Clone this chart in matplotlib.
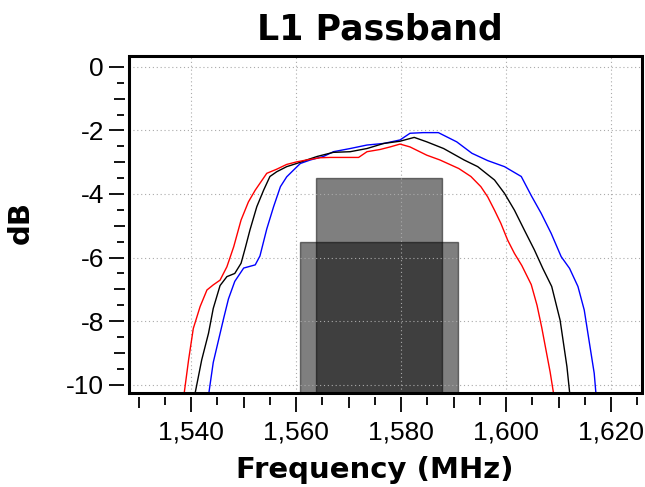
import matplotlib
matplotlib.use("Agg")
import matplotlib.pyplot as plt
from matplotlib.patches import Rectangle
from matplotlib.ticker import FixedLocator, FuncFormatter

plt.rcParams['axes.unicode_minus'] = False

# passband curves (MHz, dB)
red_freq = [1538.0, 1538.7, 1539.5, 1540.4, 1541.7, 1543.0, 1544.2, 1545.5, 1546.8, 1548.1,
            1549.5, 1550.9, 1552.2, 1554.4, 1556.3, 1558.2, 1560.1, 1562.0, 1564.6, 1566.5,
            1568.4, 1571.9, 1573.5, 1576.0, 1577.9, 1579.8, 1581.7, 1584.9, 1587.4, 1591.0,
            1593.3, 1595.2, 1596.5, 1597.8, 1599.0, 1600.3, 1601.6, 1603.0, 1604.8, 1605.9,
            1606.8, 1607.6, 1608.4, 1609.0, 1609.2]
red_db = [-10.8, -10.22, -9.22, -8.23, -7.54, -7.02, -6.86, -6.71, -6.29, -5.66,
          -4.82, -4.25, -3.88, -3.35, -3.22, -3.07, -2.99, -2.93, -2.86, -2.85,
          -2.85, -2.85, -2.67, -2.60, -2.52, -2.43, -2.52, -2.78, -2.93, -3.2,
          -3.45, -3.77, -4.09, -4.51, -4.92, -5.45, -5.87, -6.25, -6.85, -7.5,
          -8.2, -8.9, -9.6, -10.22, -10.8]

black_freq = [1540.3, 1540.8, 1542.0, 1543.3, 1544.2, 1545.5, 1546.8, 1548.3, 1549.5, 1550.3,
              1551.2, 1552.5, 1553.8, 1555.0, 1556.3, 1558.2, 1560.1, 1562.0, 1564.0, 1567.1,
              1570.3, 1573.5, 1576.7, 1579.8, 1582.5, 1584.9, 1588.1, 1592.0, 1594.6, 1597.8,
              1599.7, 1601.6, 1603.5, 1605.4, 1607.0, 1608.7, 1610.3, 1611.6, 1612.1, 1612.3]
black_db = [-10.8, -10.22, -9.22, -8.38, -7.6, -6.88, -6.6, -6.5, -6.18, -5.7,
            -5.13, -4.4, -3.88, -3.45, -3.30, -3.14, -3.04, -2.93, -2.82, -2.69,
            -2.67, -2.57, -2.41, -2.34, -2.22, -2.36, -2.57, -2.93, -3.14, -3.56,
            -3.98, -4.51, -5.14, -5.76, -6.34, -6.91, -7.97, -9.43, -10.22, -10.8]

blue_freq = [1543.0, 1543.4, 1544.2, 1545.2, 1546.2, 1547.1, 1548.3, 1550.0, 1552.2, 1553.1,
             1554.4, 1555.7, 1557.0, 1558.2, 1559.8, 1560.8, 1562.7, 1565.2, 1567.1, 1570.3,
             1573.5, 1576.7, 1579.8, 1581.7, 1584.2, 1587.1, 1590.6, 1593.5, 1596.5, 1599.7,
             1602.9, 1604.8, 1606.7, 1608.6, 1610.5, 1612.1, 1613.7, 1614.9, 1615.9, 1616.8,
             1617.1, 1617.3]
blue_db = [-10.8, -10.22, -9.3, -8.6, -7.9, -7.3, -6.75, -6.33, -6.23, -5.95,
           -5.1, -4.40, -3.77, -3.46, -3.20, -3.04, -2.93, -2.82, -2.67, -2.57,
           -2.46, -2.41, -2.30, -2.09, -2.07, -2.07, -2.36, -2.72, -2.95, -3.14,
           -3.45, -4.05, -4.61, -5.24, -5.97, -6.34, -6.91, -7.65, -8.70, -9.64,
           -10.22, -10.8]

# shaded bands: left edge, right edge, top (dB)
band_lo = [1563.75, 1560.75]
band_hi = [1587.75, 1590.75]
band_top = [-3.5, -5.5]

W, H = 645, 487
fig = plt.figure(figsize=(W / 100, H / 100), dpi=100)
ax = fig.add_axes([128.5 / W, 1 - 393.3 / H, (641.7 - 128.5) / W, (393.3 - 55.7) / H])

bottom = -12
for lo, hi, top in zip(band_lo, band_hi, band_top):
    ax.bar((lo + hi) / 2, top - bottom, width=hi - lo, bottom=bottom,
           color='black', alpha=0.5, edgecolor='black', linewidth=1, zorder=1)

ax.plot(blue_freq, blue_db, color='#0000ff', lw=1.0, zorder=3)
ax.plot(black_freq, black_db, color='black', lw=1.0, zorder=3)
ax.plot(red_freq, red_db, color='#ff0000', lw=1.0, zorder=3)

ax.set_xlim(1528.05, 1625.85)
ax.set_ylim(-10.27, 0.35)

# ticks: long / medium / short
x_major = list(range(1540, 1621, 20))
x_mid = [1530, 1550, 1570, 1590, 1610]
x_minor = [v for v in range(1530, 1626, 5) if v % 10 != 0]
y_major = [0, -2, -4, -6, -8, -10]
y_mid = [-1, -3, -5, -7, -9]
y_minor = [-0.5, -1.5, -2.5, -3.5, -4.5, -5.5, -6.5, -7.5, -8.5, -9.5]

ax.xaxis.set_major_locator(FixedLocator(x_major))
ax.xaxis.set_minor_locator(FixedLocator(x_minor))
ax.yaxis.set_major_locator(FixedLocator(y_major))
ax.yaxis.set_minor_locator(FixedLocator(y_minor))
ax.xaxis.set_major_formatter(FuncFormatter(lambda v, p: f'{v:,.0f}'))
ax.yaxis.set_major_formatter(FuncFormatter(lambda v, p: f'{v:.0f}'))

for s in ax.spines.values():
    s.set_visible(False)
ax.spines['left'].set_position(('outward', 2.9))
ax.spines['bottom'].set_position(('outward', 2.9))

tick_font = {'family': 'Liberation Sans', 'size': 19}
ax.tick_params(which='major', direction='out', length=10.8, width=1.3, color='black', pad=4)
ax.tick_params(which='minor', direction='out', length=5.4, width=1.3, color='black')
for lab in ax.get_xticklabels() + ax.get_yticklabels():
    lab.set_fontfamily('Liberation Sans')
    lab.set_fontsize(19)
ax.tick_params(axis='x', which='major', pad=6)

off_x = -4 / (393.3 - 55.7)
off_y = -4 / (641.7 - 128.5)
secx = ax.secondary_xaxis(off_x)
secx.set_xticks(x_mid)
secx.tick_params(length=7.9, width=1.3, labelbottom=False)
secx.spines['bottom'].set_visible(False)
secy = ax.secondary_yaxis(off_y)
secy.set_yticks(y_mid)
secy.tick_params(length=7.9, width=1.3, labelleft=False)
secy.spines['left'].set_visible(False)

ax.set_axisbelow(False)
ax.grid(True, which='major', color='#aaaaaa', lw=0.8, linestyle=(0, (1, 2.5)))

ax.add_patch(Rectangle((0, 0), 1, 1, transform=ax.transAxes, fill=False,
                       lw=2.2, ec='black', clip_on=False, zorder=10))

fig.text(380 / W, 1 - 40 / H, 'L1 Passband', ha='center', va='baseline',
         fontsize=25, fontweight='bold')
fig.text(375 / W, 1 - 478 / H, 'Frequency (MHz)', ha='center', va='baseline',
         fontsize=21, fontweight='bold')
fig.text(21 / W, 1 - 222 / H, 'dB', ha='center', va='center', rotation=90,
         fontsize=21, fontweight='bold')

fig.savefig('out.png', dpi=100)
